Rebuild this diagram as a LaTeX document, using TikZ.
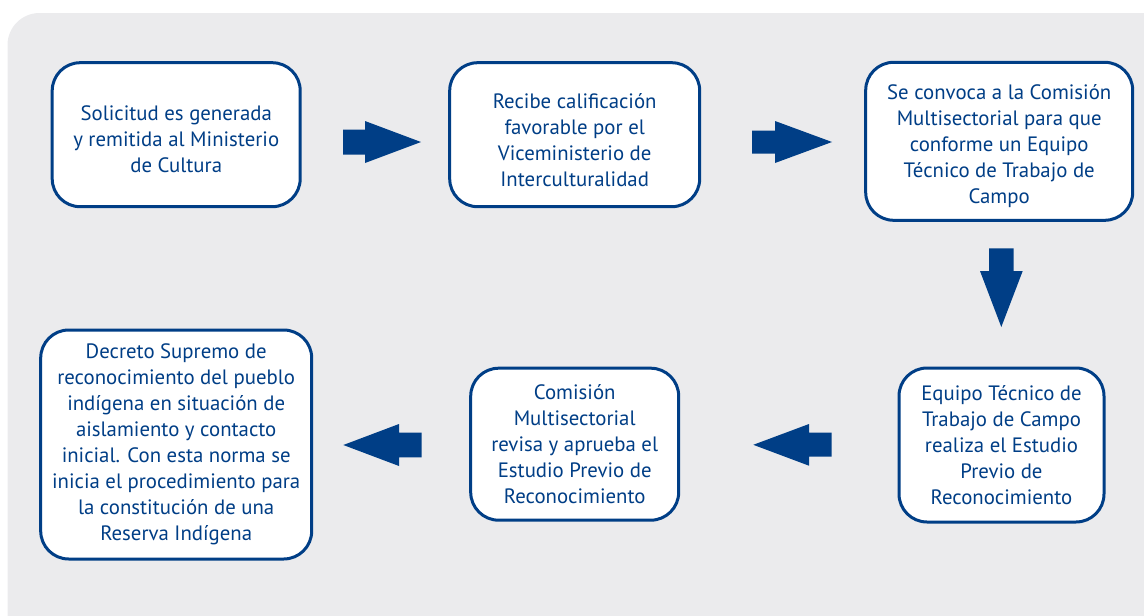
\documentclass[tikz,border=0pt]{standalone}
\usepackage{fontspec}
\setmainfont{PT Sans}
\definecolor{navy}{RGB}{0,62,134}
\definecolor{panel}{RGB}{235,235,237}
\begin{document}
\begin{tikzpicture}[x=1pt,y=-1pt,
  stepbox/.style={draw=navy,line width=3pt,fill=white,rounded corners=28pt,
    align=center,text=navy,inner sep=0pt,
    font=\fontsize{20.8}{26}\selectfont},
  toprow/.style={label={[align=center,text=navy,inner sep=0pt,
    font=\fontsize{20.8}{26}\selectfont,yshift=-5pt]center:{#1}}},
  blockarrow/.style={fill=navy,draw=none}]
\useasboundingbox (0,0) rectangle (1144,616);
\fill[panel,rounded corners=32pt] (7.5,13) rectangle (1175,650);
\node[stepbox,minimum width=248pt,minimum height=144pt,
  toprow={Solicitud es generada\\y remitida al Ministerio\\de Cultura}] (b1) at (176.2,134.7) {};
\node[stepbox,minimum width=250pt,minimum height=144pt,
  toprow={Recibe calificación\\favorable por el\\Viceministerio de\\Interculturalidad}] (b2) at (574.7,134.7) {};
\node[stepbox,minimum width=267pt,minimum height=158pt,
  toprow={Se convoca a la Comisión\\Multisectorial para que\\conforme un Equipo\\Técnico de Trabajo de\\Campo}] (b3) at (999.2,141.3) {};
\node[stepbox,minimum width=205pt,minimum height=154pt] (b5) at (1001.5,445)
  {Equipo Técnico de\\Trabajo de Campo\\realiza el Estudio\\Previo de\\Reconocimiento};
\node[stepbox,minimum width=208pt,minimum height=152pt] (b4) at (574.7,444.2)
  {Comisión\\Multisectorial\\revisa y aprueba el\\Estudio Previo de\\Reconocimiento};
\node[stepbox,minimum width=271pt,minimum height=229pt] (b6) at (176.2,444.5)
  {Decreto Supremo de\\reconocimiento del pueblo\\indígena en situación de\\aislamiento y contacto\\inicial. Con esta norma se\\inicia el procedimiento para\\la constitución de una\\Reserva Indígena};
% block arrows
\fill[blockarrow] (343,129.5) -- (365,129.5) -- (365,121) -- (421,142) -- (365,163) -- (365,154.5) -- (343,154.5) -- cycle;
\fill[blockarrow] (752,130.5) -- (775,130.5) -- (775,121) -- (832,142) -- (775,163) -- (775,153.5) -- (752,153.5) -- cycle;
\fill[blockarrow] (989,248.3) -- (1013.7,248.3) -- (1013.7,271) -- (1022.7,271) -- (1001.3,327) -- (980,271) -- (989,271) -- cycle;
\fill[blockarrow] (831.7,432.5) -- (809,432.5) -- (809,424) -- (753.3,444.8) -- (809,465.7) -- (809,456.7) -- (831.7,456.7) -- cycle;
\fill[blockarrow] (421.7,432.7) -- (399,432.7) -- (399,424) -- (343.3,445) -- (399,466) -- (399,457.3) -- (421.7,457.3) -- cycle;
\end{tikzpicture}
\end{document}
